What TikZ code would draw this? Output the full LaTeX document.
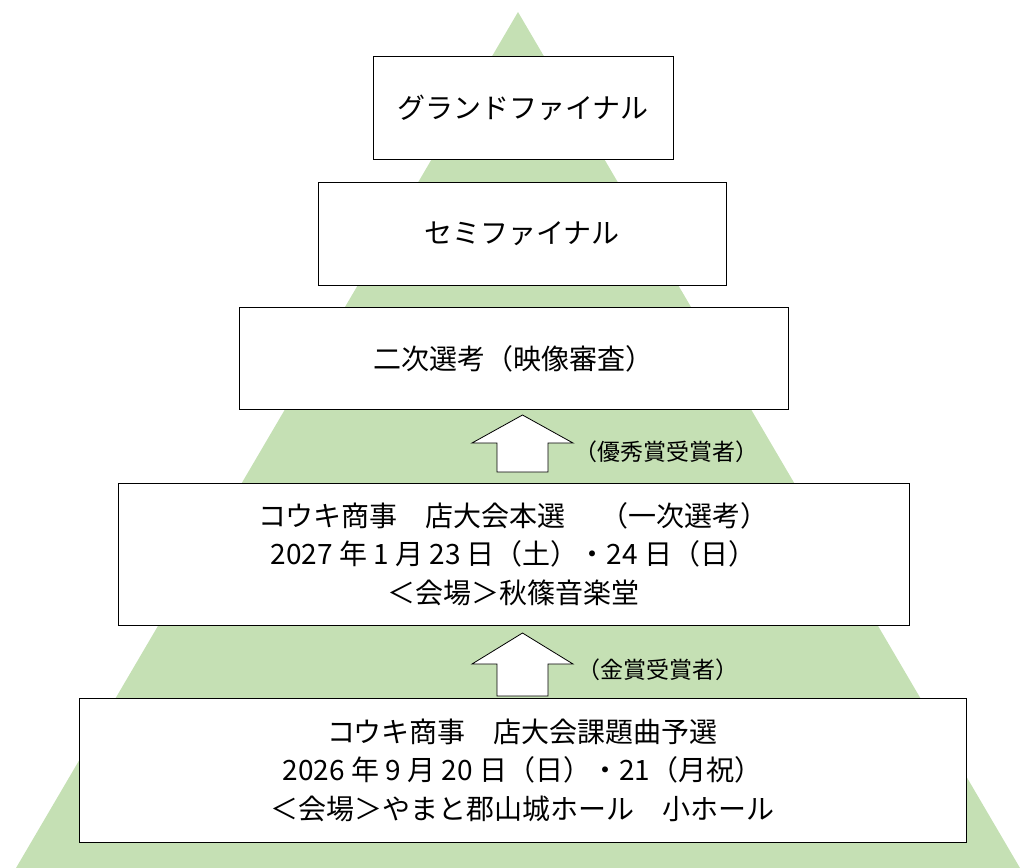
\documentclass[tikz,border=0pt]{standalone}
\usepackage{fontspec}
\setmainfont{Noto Sans CJK JP}
\definecolor{pyramid}{RGB}{197,224,180}
\tikzset{stage/.style={draw=black, line width=1pt, fill=white, align=center, inner sep=0pt, font=\fontsize{28}{38.5}\selectfont},
        award/.style={anchor=west, inner sep=0pt, font=\fontsize{23}{26}\selectfont},
        uparrow/.style={draw=black, fill=white, line width=0.8pt}}
\begin{document}
\begin{tikzpicture}[x=1pt,y=-1pt]
        \useasboundingbox (0,0) rectangle (1021,868);
        \fill[pyramid] (518,12)--(1020,868)--(16,868)--cycle;
        \node[stage, minimum width=300pt, minimum height=103pt] (grand) at (523,107.5) {グランドファイナル};
        \node[stage, minimum width=408pt, minimum height=103pt] (semi) at (522,233.5) {セミファイナル};
        \node[stage, minimum width=549pt, minimum height=102pt] (second) at (513.5,358.5) {二次選考（映像審査）};
        \node[stage, minimum width=791pt, minimum height=142pt] (first) at (513.5,554) {コウキ商事　店大会本選　 （一次選考）\\2027 年 1 月 23 日（土）・24 日（日）\\＜会場＞秋篠音楽堂};
        \node[stage, minimum width=887pt, minimum height=144pt] (prelim) at (522.5,770) {コウキ商事　店大会課題曲予選\\2026 年 9 月 20 日（日）・21（月祝）\\＜会場＞やまと郡山城ホール　小ホール};
        \draw[uparrow] (522.5,415)--(573,443)--(548,443)--(548,472)--(497,472)--(497,443)--(472,443)--cycle;
        \draw[uparrow] (522.5,633)--(573,664)--(548,664)--(548,696)--(497,696)--(497,664)--(472,664)--cycle;
        \node[award] (prize1) at (574,452) {（優秀賞受賞者）};
        \node[award] (prize2) at (577,670) {（金賞受賞者）};
\end{tikzpicture}
\end{document}
